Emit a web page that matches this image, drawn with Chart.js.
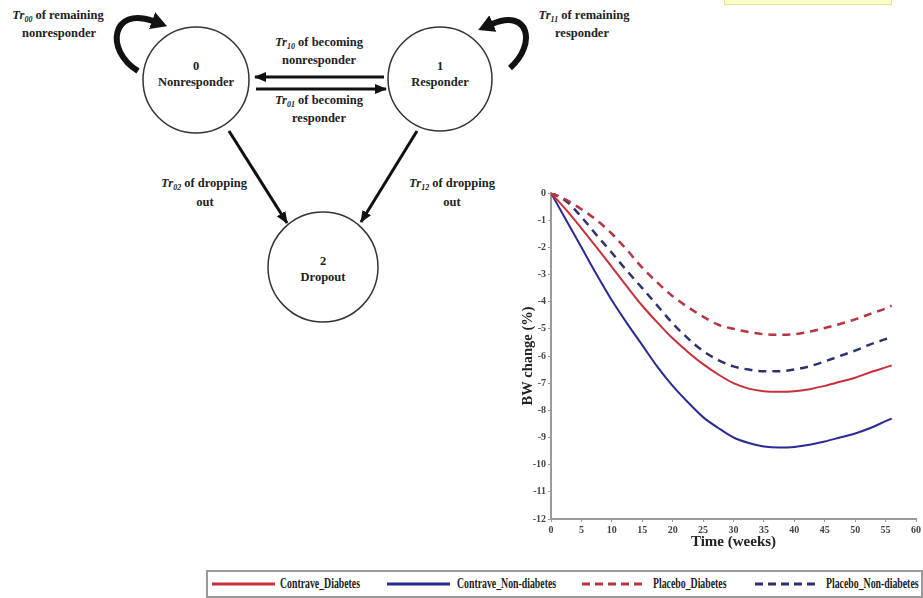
<!DOCTYPE html>
<html>
<head>
<meta charset="utf-8">
<script src="https://cdn.jsdelivr.net/npm/chart.js@4.4.1/dist/chart.umd.min.js"></script>
<style>
body{margin:0;background:#fff;width:923px;height:598px;overflow:hidden;position:relative;font-family:"Liberation Serif",serif}
#diagram{position:absolute;left:0;top:0}
#diagram text{font-family:"Liberation Serif",serif;font-weight:bold;font-size:12.5px;fill:#222;text-anchor:middle}
#diagram .tr{font-style:italic}
#wrap{position:absolute;left:495px;top:180px;width:428px;height:372px}
#legend{position:absolute;left:206px;top:570px;width:713px;height:24px;border:2px solid #9a9a9a}
.item{position:absolute;top:0;height:24px}
.item svg{position:absolute;top:0}
.item span{position:absolute;top:4px;font-weight:bold;font-size:14px;color:#222;white-space:nowrap;transform:scaleX(0.7);transform-origin:0 0}
#note{position:absolute;left:724px;top:-2px;width:166px;height:5px;background:#ffffc6;border:1px solid #ece48c}
</style>
</head>
<body>
<div id="note"></div>
<svg id="diagram" width="923" height="598">
  <defs>
    <marker id="ah" markerWidth="12" markerHeight="10" refX="11" refY="5" orient="auto" markerUnits="userSpaceOnUse">
      <path d="M0,0 L12,5 L0,10 z" fill="#111"/>
    </marker>
    <marker id="bh" markerWidth="16" markerHeight="18" refX="1" refY="9" orient="auto" markerUnits="userSpaceOnUse">
      <path d="M0,0 L16,9 L0,18 z" fill="#111"/>
    </marker>
  </defs>
  <circle cx="196" cy="80" r="53" fill="none" stroke="#333" stroke-width="1.5"/>
  <circle cx="440" cy="79" r="52" fill="none" stroke="#333" stroke-width="1.5"/>
  <circle cx="323" cy="267" r="55" fill="none" stroke="#333" stroke-width="1.5"/>

  <line x1="384" y1="77" x2="255" y2="77" stroke="#111" stroke-width="3" marker-end="url(#ah)"/>
  <line x1="256" y1="89" x2="386" y2="89" stroke="#111" stroke-width="3" marker-end="url(#ah)"/>
  <line x1="229" y1="131" x2="287" y2="223" stroke="#111" stroke-width="3" marker-end="url(#ah)"/>
  <line x1="417" y1="131" x2="361" y2="222" stroke="#111" stroke-width="3" marker-end="url(#ah)"/>

  <path d="M138,71 C104,50 112,6 153,21" fill="none" stroke="#111" stroke-width="6" marker-end="url(#bh)"/>
  <path d="M510,68 C537,44 529,8 492,24" fill="none" stroke="#111" stroke-width="6" marker-end="url(#bh)"/>

  <text x="196" y="70">0</text>
  <text x="196" y="86">Nonresponder</text>
  <text x="440" y="70">1</text>
  <text x="440" y="86">Responder</text>
  <text x="323" y="265">2</text>
  <text x="323" y="281">Dropout</text>

  <text x="58" y="19"><tspan class="tr">Tr</tspan><tspan class="tr" font-size="8" dy="3">00</tspan><tspan dy="-3"> of remaining</tspan></text>
  <text x="59" y="37">nonresponder</text>
  <text x="584" y="19"><tspan class="tr">Tr</tspan><tspan class="tr" font-size="8" dy="3">11</tspan><tspan dy="-3"> of remaining</tspan></text>
  <text x="582" y="37">responder</text>
  <text x="319" y="46"><tspan class="tr">Tr</tspan><tspan class="tr" font-size="8" dy="3">10</tspan><tspan dy="-3"> of becoming</tspan></text>
  <text x="319" y="64">nonresponder</text>
  <text x="319" y="104"><tspan class="tr">Tr</tspan><tspan class="tr" font-size="8" dy="3">01</tspan><tspan dy="-3"> of becoming</tspan></text>
  <text x="319" y="122">responder</text>
  <text x="204" y="187"><tspan class="tr">Tr</tspan><tspan class="tr" font-size="8" dy="3">02</tspan><tspan dy="-3"> of dropping</tspan></text>
  <text x="205" y="206">out</text>
  <text x="452" y="187"><tspan class="tr">Tr</tspan><tspan class="tr" font-size="8" dy="3">12</tspan><tspan dy="-3"> of dropping</tspan></text>
  <text x="452" y="206">out</text>
</svg>

<div id="wrap"><canvas id="myChart"></canvas></div>
<div id="legend"></div>

<script>
'use strict'

// time points (weeks)
var weeks = [0, 2.5, 5, 7.5, 10, 12.5, 15, 17.5, 20, 22.5, 25, 27.5, 30, 32.5, 35, 37.5, 40, 42.5, 45, 47.5, 50, 52.5, 55, 56];

// BW change (%) per series
var contraveDiabetes    = [0, -0.62, -1.3, -2.0, -2.72, -3.45, -4.15, -4.77, -5.35, -5.85, -6.3, -6.68, -7.0, -7.2, -7.3, -7.32, -7.3, -7.22, -7.1, -6.95, -6.8, -6.6, -6.42, -6.35];
var contraveNonDiabetes = [0, -1.0, -2.0, -3.0, -3.95, -4.8, -5.6, -6.4, -7.1, -7.7, -8.25, -8.65, -9.0, -9.2, -9.33, -9.37, -9.35, -9.27, -9.15, -9.0, -8.85, -8.65, -8.4, -8.3];
var placeboDiabetes     = [0, -0.25, -0.6, -1.0, -1.5, -2.1, -2.75, -3.3, -3.8, -4.2, -4.55, -4.85, -5.0, -5.12, -5.2, -5.22, -5.2, -5.1, -4.97, -4.82, -4.65, -4.45, -4.25, -4.15];
var placeboNonDiabetes  = [0, -0.3, -0.88, -1.55, -2.2, -2.87, -3.5, -4.15, -4.8, -5.35, -5.82, -6.15, -6.38, -6.5, -6.56, -6.56, -6.5, -6.38, -6.2, -6.0, -5.8, -5.57, -5.38, -5.3];

var seriesNames = ['Contrave_Diabetes', 'Contrave_Non-diabetes', 'Placebo_Diabetes', 'Placebo_Non-diabetes'];
var seriesValues = [contraveDiabetes, contraveNonDiabetes, placeboDiabetes, placeboNonDiabetes];
var seriesColors = ['#c8303a', '#2a2a94', '#b53542', '#2d3172'];
var seriesDash = [[], [], [8, 6], [8, 6]];

var xTicks = { min: 0, max: 60, step: 5 };
var yTicks = { min: -12, max: 0, step: 1 };

function toPoints(vals) {
    return vals.map(function (v, i) { return { x: weeks[i], y: v }; });
}

var datasets = seriesNames.map(function (name, i) {
    return {
        label: name,
        data: toPoints(seriesValues[i]),
        borderColor: seriesColors[i],
        borderWidth: seriesDash[i].length ? 2.5 : 2,
        borderDash: seriesDash[i],
        pointRadius: 0,
        cubicInterpolationMode: 'monotone',
        fill: false
    };
});

var tickFont = { family: 'Liberation Serif', weight: 'bold', size: 10 };

var ctx = document.getElementById('myChart').getContext('2d');

var myChart = new Chart(ctx, {
    type: 'line',
    data: { datasets: datasets },
    options: {
        responsive: true,
        maintainAspectRatio: false,
        animation: false,
        layout: { padding: { top: 13, right: 6, left: 0, bottom: 0 } },
        plugins: { legend: { display: false }, tooltip: { enabled: false } },
        scales: {
            x: {
                type: 'linear',
                min: xTicks.min,
                max: xTicks.max,
                border: { color: '#9a9a9a', width: 2 },
                grid: { drawOnChartArea: false, tickLength: 3, color: '#9a9a9a' },
                ticks: { stepSize: xTicks.step, font: tickFont, color: '#444', padding: 2, maxRotation: 0 },
                title: { display: true, text: 'Time (weeks)', color: '#222', padding: { top: 0, bottom: 1 },
                         font: { family: 'Liberation Serif', weight: 'bold', size: 15 } },
                afterFit: function (scale) { scale.height = 33; }
            },
            y: {
                min: yTicks.min,
                max: yTicks.max,
                border: { color: '#9a9a9a', width: 2 },
                grid: { drawOnChartArea: false, tickLength: 3, color: '#9a9a9a' },
                ticks: { stepSize: yTicks.step, font: tickFont, color: '#444', padding: 2 },
                title: { display: true, text: 'BW change (%)', color: '#222', padding: { top: 25, bottom: 0 },
                         font: { family: 'Liberation Serif', weight: 'bold', size: 14.5 } },
                afterFit: function (scale) { scale.width = 56; }
            }
        }
    }
});

/* html legend built from the series */
var legendPos = [
    { line: 4, len: 63, text: 72 },
    { line: 179, len: 63, text: 249 },
    { line: 374, len: 62, text: 445 },
    { line: 547, len: 60, text: 618 }
];
var legend = document.getElementById('legend');
seriesNames.forEach(function (name, i) {
    var p = legendPos[i];
    var item = document.createElement('div');
    item.className = 'item';
    item.style.left = '0px';
    var dash = seriesDash[i].length ? ' stroke-dasharray="8,5"' : '';
    item.innerHTML =
        '<svg width="' + (p.len + 2) + '" height="24" style="left:' + p.line + 'px">' +
        '<line x1="0" y1="12" x2="' + p.len + '" y2="12" stroke="' + seriesColors[i] + '" stroke-width="3"' + dash + '/></svg>' +
        '<span style="left:' + p.text + 'px">' + name + '</span>';
    legend.appendChild(item);
});
</script>
</body>
</html>
